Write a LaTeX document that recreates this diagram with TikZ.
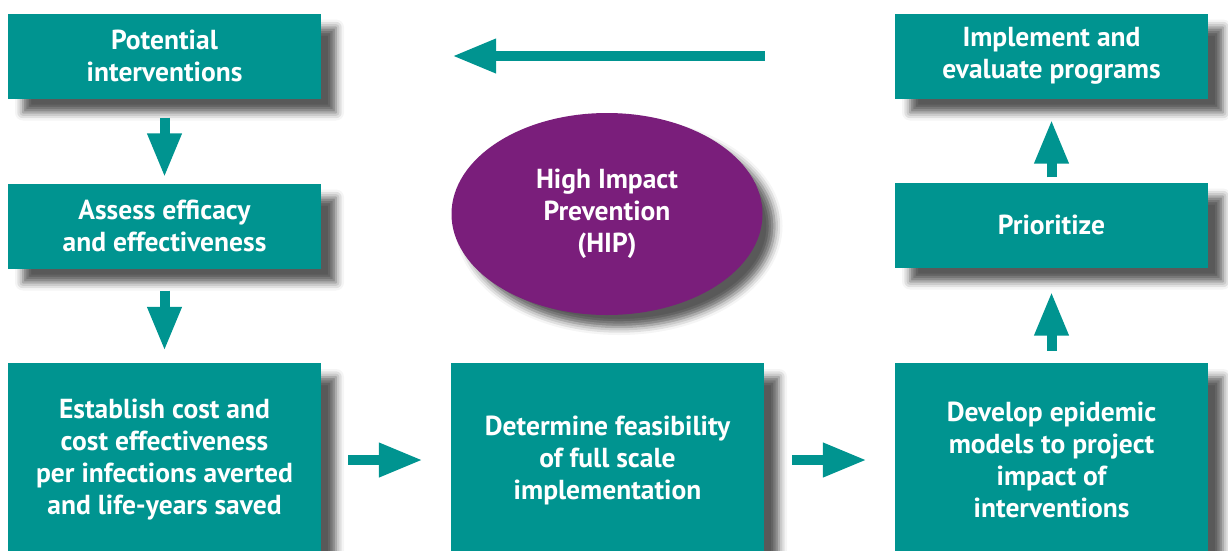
\documentclass[tikz,border=0pt]{standalone}
\usepackage{fontspec}
\setmainfont{PT Sans}
\usetikzlibrary{arrows.meta,shapes.geometric,shadows.blur}
\definecolor{hipteal}{HTML}{009490}
\definecolor{hippurple}{HTML}{7A1E7B}
\tikzset{
  hiptext/.style={text=white, font=\bfseries\fontsize{27.5}{32}\selectfont, align=center, inner sep=0pt},
  box/.style={hiptext, fill=hipteal, minimum width=313pt, minimum height=85pt,
    blur shadow={shadow xshift=15pt, shadow yshift=-14pt, shadow blur radius=8pt, shadow opacity=65}},
  tallbox/.style={box, minimum height=194pt},
  hip/.style={hiptext, ellipse, fill=hippurple, minimum width=311pt, minimum height=202pt,
    blur shadow={shadow xshift=12pt, shadow yshift=-12pt, shadow blur radius=8pt, shadow opacity=65}},
  flow/.style={draw=hipteal, line width=10pt, -{Triangle[width=32pt,length=44pt]}}
}
\begin{document}
\begin{tikzpicture}[x=1pt,y=-1pt]
  \useasboundingbox (0,0) rectangle (1228,550);
  \node[box] (potential) at (164.5,56) {Potential\\interventions};
  \node[box] (assess) at (164.5,226) {Assess efficacy\\and effectiveness};
  \node[tallbox] (establish) at (164.5,460) {Establish cost and\\cost effectiveness\\per infections averted\\and life-years saved};
  \node[tallbox] (determine) at (607.5,460) {Determine feasibility\\of full scale\\implementation};
  \node[tallbox] (develop) at (1051.5,460) {Develop epidemic\\models to project\\impact of\\interventions};
  \node[box] (prioritize) at (1051.5,225) {Prioritize};
  \node[box] (implement) at (1051.5,56) {Implement and\\evaluate programs};
  \node[hip] (hipnode) at (607,214) {High Impact\\Prevention\\(HIP)};

  \draw[flow, shorten <=19pt, shorten >=6pt] (potential) -- (assess);
  \draw[flow, shorten <=22pt, shorten >=12pt] (assess) -- (establish);
  \draw[flow, shorten <=27pt, shorten >=28pt] (establish) -- (determine);
  \draw[flow, shorten <=28pt, shorten >=28pt] (determine) -- (develop);
  \draw[flow, shorten <=12pt, shorten >=24pt] (develop) -- (prioritize);
  \draw[flow, shorten <=5pt, shorten >=21pt] (prioritize) -- (implement);
  \draw[flow, shorten <=130pt, shorten >=131pt] (implement) -- (potential);
\end{tikzpicture}
\end{document}
